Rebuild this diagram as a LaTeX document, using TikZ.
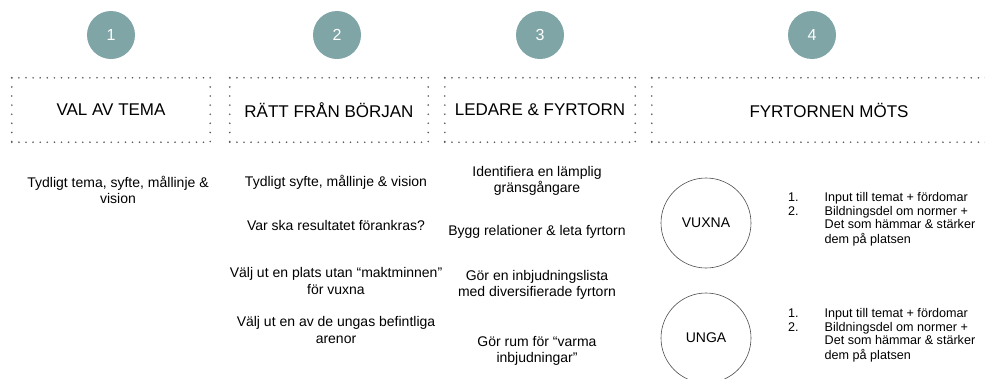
\documentclass[tikz,border=0pt]{standalone}
\usepackage{fontspec}
\setmainfont{Liberation Sans}
\usepackage{tikz}
\usetikzlibrary{positioning}
\definecolor{stepteal}{HTML}{7FA5A7}
\definecolor{dotgray}{HTML}{5A5A5A}
\tikzset{
  numdot/.style={shape=circle,fill=stepteal,minimum size=48pt,inner sep=0,text=white,font=\fontsize{16}{18}\selectfont},
  headbox/.style={shape=rectangle,minimum height=64pt,font=\fontsize{17}{20}\selectfont},
  hdots/.style={draw=dotgray,line width=1.8pt,line cap=round,dash pattern=on 0pt off 7.1pt},
  vdots/.style={draw=dotgray,line width=1.8pt,line cap=round,dash pattern=on 0pt off 9.1pt},
  body/.style={align=center,inner sep=0,font=\fontsize{14}{16.5}\selectfont},
  group/.style={shape=circle,draw=black!70,line width=0.6pt,minimum size=90pt,inner sep=0,font=\fontsize{14}{16}\selectfont},
  steps/.style={anchor=north west,inner sep=0,font=\fontsize{12.6}{13.6}\selectfont}
}
\newcommand{\steplist}{\begin{tabular}{@{}l@{\hspace{26pt}}l@{}}
1. & Input till temat + fördomar\\
2. & Bildningsdel om normer +\\
   & Det som hämmar \& stärker\\
   & dem på platsen
\end{tabular}}

\begin{document}
\begin{tikzpicture}[x=1pt,y=-1pt]
  \useasboundingbox (0,0) rectangle (985,378);
  \clip (0,0) rectangle (985,378);
  % step numbers
  \node[numdot] (n1) at (111,35) {1};
  \node[numdot] (n2) at (337,35) {2};
  \node[numdot] (n3) at (540,35) {3};
  \node[numdot] (n4) at (812,35) {4};
  % headings
  \node[headbox,minimum width=198pt] (h1) at (111,110) {VAL AV TEMA};
  \node[headbox,minimum width=198pt] (h2) at (329,110) {RÄTT FRÅN BÖRJAN};
  \node[headbox,minimum width=190pt] (h3) at (540,110) {LEDARE \& FYRTORN};
  \node[headbox,minimum width=354pt] (h4) at (829,110) {FYRTORNEN MÖTS};
  \foreach \b in {h1,h2,h3,h4} {
    \draw[hdots] (\b.north west) -- (\b.north east) (\b.south west) -- (\b.south east);
    \draw[vdots] (\b.north west) -- (\b.south west) (\b.north east) -- (\b.south east);
  }
  % column 1
  \node[body] (c1a) at (118,190) {Tydligt tema, syfte, mållinje \&\\vision};
  % column 2
  \node[body] (c2a) at (336,182) {Tydligt syfte, mållinje \& vision};
  \node[body] (c2b) at (336,225) {Var ska resultatet förankras?};
  \node[body] (c2c) at (336,281) {Välj ut en plats utan “maktminnen”\\för vuxna};
  \node[body] (c2d) at (336,330) {Välj ut en av de ungas befintliga\\arenor};
  % column 3
  \node[body] (c3a) at (537,181) {Identifiera en lämplig\\gränsgångare};
  \node[body] (c3b) at (537,232) {Bygg relationer \& leta fyrtorn};
  \node[body] (c3c) at (537,285) {Gör en inbjudningslista\\med diversifierade fyrtorn};
  \node[body] (c3d) at (537,351) {Gör rum för “varma\\inbjudningar”};
  % column 4
  \node[group] (vuxna) at (706,223) {VUXNA};
  \node[group] (unga) at (706,338) {UNGA};
  \node[steps] (lv) at (788,192) {\steplist};
  \node[steps] (lu) at (788,308) {\steplist};
\end{tikzpicture}
\end{document}
